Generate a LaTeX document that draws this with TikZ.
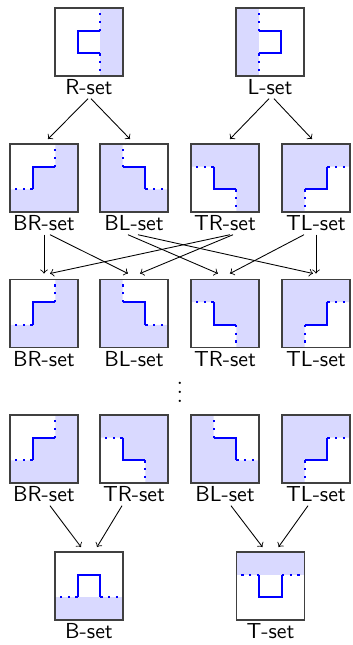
\documentclass[tikz,border=0pt]{standalone}
\usetikzlibrary{calc}

% side length of one square cell
\newlength\bw
\setlength\bw{31.28pt}

\tikzset{
  cellnode/.style={minimum size=\bw, inner sep=0pt, outer sep=0pt},
  cellframe/.style={draw=black!75, line width=0.5pt},
  tagtext/.style={anchor=north, inner sep=1.5pt, font=\sffamily},
  shadefill/.style={fill=blue!15},
  bline/.style={draw=blue, line width=1pt},
  bdots/.style={draw=blue, line width=1pt, dash pattern=on 1pt off 2.6pt},
  linkarrow/.style={->, line width=0.4pt},
}

% #1 cell node, #2 shaded region, #3 first dotted run,
% #4 solid boundary, #5 second dotted run (unit square, y downward)
\newcommand\cellpic[5]{%
  \begin{scope}[shift={(#1.north west)},x=\bw,y=-\bw]
    \fill[shadefill] #2;
    \draw[bdots] #3;
    \draw[bline] #4;
    \draw[bdots] #5;
  \end{scope}
  \draw[cellframe] (#1.north west) rectangle (#1.south east);}

\newcommand\cellR[1]{\cellpic{#1}
  {(2/3,0)--(1,0)--(1,1)--(2/3,1)--cycle}
  {(2/3,1/3)--(2/3,0)}
  {(2/3,1/3)--(1/3,1/3)--(1/3,2/3)--(2/3,2/3)}
  {(2/3,2/3)--(2/3,1)}}
\newcommand\cellL[1]{\cellpic{#1}
  {(0,0)--(1/3,0)--(1/3,1)--(0,1)--cycle}
  {(1/3,1/3)--(1/3,0)}
  {(1/3,1/3)--(2/3,1/3)--(2/3,2/3)--(1/3,2/3)}
  {(1/3,2/3)--(1/3,1)}}
\newcommand\cellBR[1]{\cellpic{#1}
  {(2/3,0)--(1,0)--(1,1)--(0,1)--(0,2/3)--(1/3,2/3)--(1/3,1/3)--(2/3,1/3)--cycle}
  {(2/3,1/3)--(2/3,0)}
  {(2/3,1/3)--(1/3,1/3)--(1/3,2/3)}
  {(1/3,2/3)--(0,2/3)}}
\newcommand\cellBL[1]{\cellpic{#1}
  {(0,0)--(1/3,0)--(1/3,1/3)--(2/3,1/3)--(2/3,2/3)--(1,2/3)--(1,1)--(0,1)--cycle}
  {(1/3,1/3)--(1/3,0)}
  {(1/3,1/3)--(2/3,1/3)--(2/3,2/3)}
  {(2/3,2/3)--(1,2/3)}}
\newcommand\cellTR[1]{\cellpic{#1}
  {(0,0)--(1,0)--(1,1)--(2/3,1)--(2/3,2/3)--(1/3,2/3)--(1/3,1/3)--(0,1/3)--cycle}
  {(1/3,1/3)--(0,1/3)}
  {(1/3,1/3)--(1/3,2/3)--(2/3,2/3)}
  {(2/3,2/3)--(2/3,1)}}
\newcommand\cellTL[1]{\cellpic{#1}
  {(0,0)--(1,0)--(1,1/3)--(2/3,1/3)--(2/3,2/3)--(1/3,2/3)--(1/3,1)--(0,1)--cycle}
  {(2/3,1/3)--(1,1/3)}
  {(2/3,1/3)--(2/3,2/3)--(1/3,2/3)}
  {(1/3,2/3)--(1/3,1)}}
\newcommand\cellB[1]{\cellpic{#1}
  {(0,2/3)--(1,2/3)--(1,1)--(0,1)--cycle}
  {(1/3,2/3)--(0,2/3)}
  {(1/3,2/3)--(1/3,1/3)--(2/3,1/3)--(2/3,2/3)}
  {(2/3,2/3)--(1,2/3)}}
\newcommand\cellT[1]{\cellpic{#1}
  {(0,0)--(1,0)--(1,1/3)--(0,1/3)--cycle}
  {(1/3,1/3)--(0,1/3)}
  {(1/3,1/3)--(1/3,2/3)--(2/3,2/3)--(2/3,1/3)}
  {(2/3,1/3)--(1,1/3)}}

\begin{document}
\begin{tikzpicture}[x=0.46pt,y=-0.46pt]
\useasboundingbox (0,0) rectangle (352,645);

% row 1
\node[cellnode] (r) at (89,42) {};   \cellR{r}
\node[tagtext] (rt) at (r.south) {R-set};
\node[cellnode] (l) at (270,42) {};  \cellL{l}
\node[tagtext] (lt) at (l.south) {L-set};

% row 2
\node[cellnode] (br2) at (44,178) {};  \cellBR{br2}
\node[tagtext] (br2t) at (br2.south) {BR-set};
\node[cellnode] (bl2) at (134,178) {}; \cellBL{bl2}
\node[tagtext] (bl2t) at (bl2.south) {BL-set};
\node[cellnode] (tr2) at (225,178) {}; \cellTR{tr2}
\node[tagtext] (tr2t) at (tr2.south) {TR-set};
\node[cellnode] (tl2) at (316,178) {}; \cellTL{tl2}
\node[tagtext] (tl2t) at (tl2.south) {TL-set};

% row 3
\node[cellnode] (br3) at (44,313.5) {};  \cellBR{br3}
\node[tagtext] (br3t) at (br3.south) {BR-set};
\node[cellnode] (bl3) at (134,313.5) {}; \cellBL{bl3}
\node[tagtext] (bl3t) at (bl3.south) {BL-set};
\node[cellnode] (tr3) at (225,313.5) {}; \cellTR{tr3}
\node[tagtext] (tr3t) at (tr3.south) {TR-set};
\node[cellnode] (tl3) at (316,313.5) {}; \cellTL{tl3}
\node[tagtext] (tl3t) at (tl3.south) {TL-set};

\node (gap) at (180,386) {$\vdots$};

% row 4
\node[cellnode] (br4) at (44,449) {};  \cellBR{br4}
\node[tagtext] (br4t) at (br4.south) {BR-set};
\node[cellnode] (tr4) at (134,449) {}; \cellTR{tr4}
\node[tagtext] (tr4t) at (tr4.south) {TR-set};
\node[cellnode] (bl4) at (225,449) {}; \cellBL{bl4}
\node[tagtext] (bl4t) at (bl4.south) {BL-set};
\node[cellnode] (tl4) at (316,449) {}; \cellTL{tl4}
\node[tagtext] (tl4t) at (tl4.south) {TL-set};

% row 5
\node[cellnode] (b5) at (89,586) {};    \cellB{b5}
\node[tagtext] (b5t) at (b5.south) {B-set};
\node[cellnode] (t5) at (270.5,586) {}; \cellT{t5}
\node[tagtext] (t5t) at (t5.south) {T-set};

% row 1 -> row 2
\draw[linkarrow] ($(rt.south)+(-1,0)$) -- ($(br2.north)+(4,-5)$);
\draw[linkarrow] ($(rt.south)+(2,0)$)  -- ($(bl2.north)+(-4,-5)$);
\draw[linkarrow] ($(lt.south)+(-1,0)$) -- ($(tr2.north)+(5,-5)$);
\draw[linkarrow] ($(lt.south)+(4,0)$)  -- ($(tl2.north)+(-4,-5)$);

% row 2 -> row 3
\draw[linkarrow] (br2t.south) -- ($(br3.north)+(0,-6)$);
\draw[linkarrow] ($(br2t.south)+(6,0)$)  -- ($(bl3.north)+(-6,-6)$);
\draw[linkarrow] ($(bl2t.south)+(-6,0)$) -- ($(tr3.north)+(-7,-6)$);
\draw[linkarrow] ($(bl2t.south)+(4,0)$)  -- ($(tl3.north)+(-3,-6)$);
\draw[linkarrow] ($(tr2t.south)+(5,0)$)  -- ($(br3.north)+(6,-6)$);
\draw[linkarrow] ($(tr2t.south)+(8,0)$)  -- ($(bl3.north)+(6,-6)$);
\draw[linkarrow] ($(tl2t.south)+(-12,0)$) -- ($(tr3.north)+(5,-6)$);
\draw[linkarrow] (tl2t.south) -- ($(tl3.north)+(0,-6)$);

% row 4 -> row 5
\draw[linkarrow] ($(br4t.south)+(6,0)$)   -- ($(b5.north)+(-8,-5)$);
\draw[linkarrow] ($(tr4t.south)+(-12,0)$) -- ($(b5.north)+(8,-5)$);
\draw[linkarrow] ($(bl4t.south)+(6,0)$)   -- ($(t5.north)+(-8,-5)$);
\draw[linkarrow] ($(tl4t.south)+(-8,0)$)  -- ($(t5.north)+(8,-5)$);
\end{tikzpicture}
\end{document}
